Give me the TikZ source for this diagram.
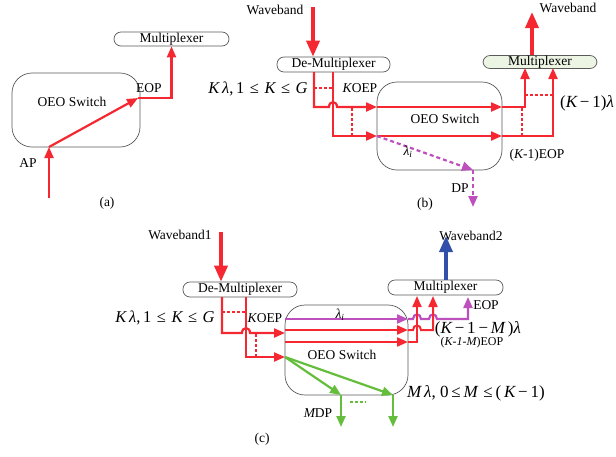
\documentclass[tikz,border=0pt]{standalone}
\usepackage{fontspec}
\setmainfont{Liberation Serif}
\usetikzlibrary{arrows.meta}
\definecolor{rline}{RGB}{245,40,50}
\definecolor{mline}{RGB}{190,80,190}
\definecolor{gline}{RGB}{100,190,60}
\definecolor{bline}{RGB}{50,80,170}
\definecolor{boxgray}{RGB}{90,90,90}
\definecolor{muxfill}{RGB}{236,244,228}
\begin{document}
\begin{tikzpicture}[x=1pt,y=-1pt,
  font=\fontsize{13.5}{15}\selectfont,
  rl/.style={draw=rline,line width=2.2pt},
  ml/.style={draw=mline,line width=2.2pt},
  gl/.style={draw=gline,line width=2.2pt},
  tip/.style={-{Triangle[length=11pt,width=9pt]}},
  bigtip/.style={-{Triangle[length=16pt,width=13pt]}},
  dsh/.style={dash pattern=on 4pt off 3pt},
  thindash/.style={draw=rline,line width=1.6pt,dash pattern=on 3pt off 2pt},
  pill/.style={draw=boxgray,line width=0.7pt,rounded corners=7pt,minimum height=15pt,inner sep=0pt},
  oeo/.style={draw=boxgray,line width=0.7pt,rounded corners=20pt,inner sep=0pt},
  lbl/.style={inner sep=0pt},
  mlbl/.style={inner sep=0pt,font=\fontsize{16.5}{18}\selectfont},
  slbl/.style={inner sep=0pt,font=\fontsize{12}{13}\selectfont}]
\useasboundingbox (0,0) rectangle (616,456);
\fill[white] (0,0) rectangle (616,456);

%% ---------------- (a) ----------------
\node[pill,minimum width=115pt,minimum height=14pt] (muxA) at (171.5,39) {Multiplexer};
\node[oeo,minimum width=128pt,minimum height=74pt] (oeoA) at (76,110) {};
\node[lbl] (oeoAt) at (72,102) {OEO Switch};
\coordinate (apA) at (49,198);
\coordinate (inA) at (49,147);
\coordinate (eopA) at (138,98);
\draw[rl,tip] (apA) -- (inA);
\draw[rl,tip] (inA) -- (eopA);
\draw[rl,tip] (eopA) -| (muxA.south);
\node[lbl] (eopAl) at (149,88) {EOP};
\node[lbl] (apAl) at (28,163) {AP};
\node[lbl] (capA) at (107,203) {(a)};

%% ---------------- (b) ----------------
\node[pill,minimum width=113pt] (demuxB) at (333.5,64.5) {De-Multiplexer};
\node[oeo,minimum width=125pt,minimum height=88pt] (oeoB) at (439.5,126) {};
\node[lbl] (oeoBt) at (445,119) {OEO Switch};
\node[pill,fill=muxfill,minimum width=114pt,minimum height=13pt] (muxB) at (540,62) {Multiplexer};
\node[lbl] (wbB) at (275,10) {Waveband};
\coordinate (wbBs) at (313,7);
\draw[rl,line width=3.5pt,bigtip] (wbBs) -- (wbBs |- demuxB.north);
\coordinate (wbOut) at (532,12);
\draw[rl,line width=3.5pt,bigtip] (wbOut |- muxB.north) -- (wbOut);
\node[lbl] (wbOutl) at (568,8) {Waveband};

\coordinate (b1top) at (314,72);
\coordinate (b2top) at (333,72);
\coordinate (b1in) at (377,107);
\coordinate (b2in) at (377,136);
\coordinate (b1out) at (502,107);
\coordinate (b2out) at (502,136);
\coordinate (b1mux) at (525,68);
\coordinate (b2mux) at (553,68);
\draw[rl,tip] (b1top) -- (314,107) -- (329,107) .. controls (329,100.5) and (337,100.5) .. (337,107) -- (b1in);
\draw[rl,tip] (b2top) |- (b2in);
\draw[rl,tip] (b1in) -- (b1out);
\draw[rl,tip] (b2in) -- (b2out);
\draw[rl,tip] (b1out) -| (b1mux);
\draw[rl,tip] (b2out) -| (b2mux);
\draw[thindash] (314,88) -- (333,88);
\draw[thindash] (352,108) -- (352,135);
\draw[thindash] (525,95) -- (553,95);
\draw[thindash] (522,108) -- (522,135);
\coordinate (dpB) at (473,170);
\coordinate (dpBe) at (473,207);
\draw[ml,dsh,tip] (b2in) -- (dpB);
\draw[ml,dsh,tip] (dpB) -- (dpBe);
\node[mlbl] (kB) at (258,89) {{\itshape K\,λ},\,1\,\,≤\,\,{\itshape K}\,\,≤\,\,{\itshape G}};
\node[lbl] (koepB) at (360,88) {{\itshape K}OEP};
\node[lbl] (liB) at (408,152) {{\itshape λ\textsubscript{i}}};
\node[lbl] (dpBl) at (460,188) {DP};
\node[lbl] (capB) at (425,204) {(b)};
\node[mlbl,font=\fontsize{17}{19}\selectfont] (k1B) at (587,103) {({\itshape K}\,−\,1){\itshape λ}};
\node[lbl] (k1eB) at (537,155) {({\itshape K}-1)EOP};

%% ---------------- (c) ----------------
\node[pill,minimum width=114pt] (demuxC) at (240,289.5) {De-Multiplexer};
\node[oeo,minimum width=123pt,minimum height=90pt] (oeoC) at (346.5,350) {};
\node[lbl] (oeoCt) at (342,355) {OEO Switch};
\node[pill,minimum width=115pt] (muxC) at (445.5,287.5) {Multiplexer};
\node[lbl] (wbC1) at (180,235) {Waveband1};
\coordinate (wbC1s) at (221,232);
\draw[rl,line width=3.5pt,bigtip] (wbC1s) -- (wbC1s |- demuxC.north);
\coordinate (wbC2) at (446,236);
\draw[draw=bline,line width=3.5pt,bigtip] (wbC2 |- muxC.north) -- (wbC2);
\node[lbl] (wbC2l) at (471,236) {Waveband2};

\coordinate (c1top) at (222,297);
\coordinate (c2top) at (246,297);
\coordinate (c1in) at (285,333);
\coordinate (c2in) at (285,357);
\draw[rl,tip] (c1top) -- (222,333) -- (242,333) .. controls (242,326.5) and (250,326.5) .. (250,333) -- (c1in);
\draw[rl,tip] (c2top) |- (c2in);
\draw[thindash] (222,312) -- (246,312);
\draw[thindash] (256,334) -- (256,356);

\coordinate (cmi) at (285,319);
\coordinate (cmo) at (408,319);
\coordinate (cmm) at (468,297);
\coordinate (cri1) at (285,330);
\coordinate (cro1) at (408,330);
\coordinate (cri2) at (285,342);
\coordinate (cro2) at (408,342);
\coordinate (crm1) at (433,296);
\coordinate (crm2) at (417,296);
\draw[ml,tip] (cmi) -- (cmo);
\draw[ml,tip] (cmo) -- (413,319) .. controls (413,313) and (421,313) .. (421,319) -- (429,319) .. controls (429,313) and (437,313) .. (437,319) -| (cmm);
\draw[rl,line width=2pt,tip] (cri1) -- (cro1);
\draw[rl,line width=2pt,tip] (cri2) -- (cro2);
\draw[rl,line width=2pt,tip] (cro1) -- (413,330) .. controls (413,324) and (421,324) .. (421,330) -| (crm1);
\draw[rl,line width=2pt,tip] (cro2) -| (crm2);

\coordinate (g1) at (341,395);
\coordinate (g2) at (393,395);
\coordinate (g1e) at (341,427);
\coordinate (g2e) at (393,427);
\draw[gl,tip] (c2in) -- (g1);
\draw[gl,tip] (c2in) -- (g2);
\draw[gl,tip] (g1) -- (g1e);
\draw[gl,tip] (g2) -- (g2e);
\draw[draw=gline,line width=1.6pt,dash pattern=on 3pt off 2pt] (350,402) -- (366,402);

\node[mlbl] (kC) at (165,318) {{\itshape K\,λ},\,1\,\,≤\,\,{\itshape K}\,\,≤\,\,{\itshape G}};
\node[lbl] (koepC) at (265,318) {{\itshape K}OEP};
\node[lbl] (liC) at (340,315) {{\itshape λ\textsubscript{i}}};
\node[lbl] (eopC) at (486,305) {EOP};
\node[mlbl,font=\fontsize{17}{19}\selectfont] (kmC) at (478,329) {({\itshape K}\,−\,1\,−\,{\itshape M}\,){\itshape λ}};
\node[slbl] (kmeC) at (472,343) {({\itshape K-1-M})EOP};
\node[mlbl,font=\fontsize{17}{19}\selectfont] (mC) at (476,393) {{\itshape M\,λ}, 0\,≤\,{\itshape M}\,\,≤\,(\,{\itshape K}\,−\,1)};
\node[lbl] (mdpC) at (318,413) {{\itshape M}DP};
\node[lbl] (capC) at (262,439) {(c)};
\end{tikzpicture}
\end{document}
